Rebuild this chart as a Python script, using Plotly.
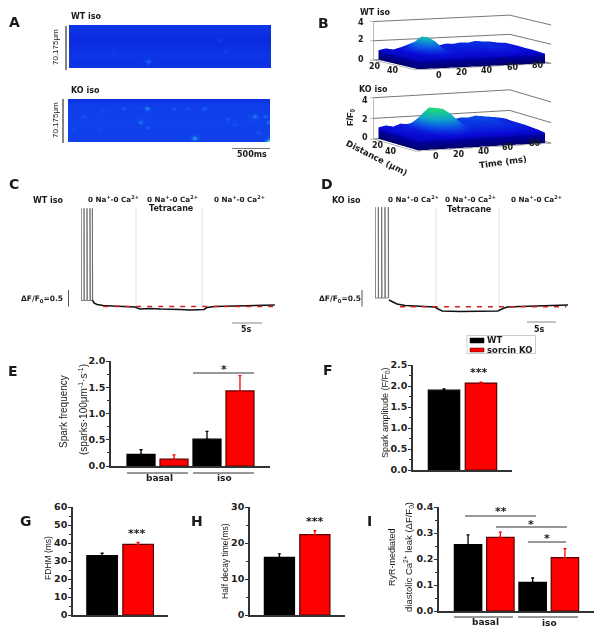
import plotly.graph_objects as go

W, H = 604, 637
def X(p): return p / W
def Y(p): return 1 - p / H

# ---------- data ----------
wt_label, ko_label = "WT", "sorcin KO"
# E
e_cat = ["basal WT", "basal KO", "iso WT", "iso KO"]
e_val = [0.22, 0.13, 0.51, 1.43]
e_err = [0.09, 0.08, 0.15, 0.29]
# F
two_cat = ["WT", "KO"]
f_val = [1.90, 2.07]
f_err = [0.03, 0.02]
# G
g_val = [33.0, 39.2]
g_err = [1.3, 1.1]
# H
h_val = [16.0, 22.3]
h_err = [1.0, 1.1]
# I
i_val = [0.255, 0.283, 0.110, 0.205]
i_err = [0.038, 0.020, 0.017, 0.035]

# C / D fluorescence traces
c_spike_t = [0, 0, .05, .5, .5, .55, 1.0, 1.0, 1.05, 1.5, 1.5, 1.55, 1.9, 1.9, 1.95]
c_spike_v = [.18, 2.94, .18, .18, 2.94, .18, .18, 2.94, .18, .18, 2.94, .18, .18, 2.94, .19]
c_t = [1.9, 2.2, 2.7, 3.7, 5.2, 6.5, 7.8, 9.0, 9.8, 10.7, 11.5, 13.2, 14.8, 16.5, 18.2, 19.8, 20.5, 21.0, 22.3, 24.0, 26.5, 28.2, 29.8, 32.3]
c_v = [.19, .10, .06, .03, .015, 0, -.015, -.015, -.075, -.06, -.06, -.075, -.075, -.09, -.105, -.105, -.09, -.03, 0, .006, .015, .015, .03, .045]
c_ref_t = [3.7, 32.0]
c_ref_v = [0, 0]
d_spike_t = [0, 0, .05, .57, .57, .62, 1.15, 1.15, 1.2, 1.72, 1.72, 1.77, 2.3, 2.3, 2.35]
d_spike_v = [.26, 2.98, .26, .26, 2.98, .26, .26, 2.98, .26, .26, 2.98, .26, .26, 2.98, .27]
d_t = [2.4, 3.1, 3.8, 5.2, 7.8, 10.3, 10.9, 11.6, 14.7, 18.1, 21.2, 22.1, 22.8, 25.0, 28.4, 33.3]
d_v = [.2, .14, .08, .035, .006, -.01, -.07, -.13, -.145, -.145, -.13, -.055, -.01, .006, .02, .05]
d_ref_t = [4.3, 33.0]
d_ref_v = [0, 0]

# A line-scan images: row brightness and sparks (ms, um, brightness)
a_cols, a_rows = 60, 16
a_ms, a_um = 2658, 70.175
wt_rows = [.16, .14, .12, .10, .09, .08, .08, .10, .12, .14, .15, .16, .15, .14, .12, .16]
ko_rows = [.15, .20, .22, .23, .22, .24, .24, .25, .26, .24, .25, .25, .25, .24, .23, .24]
wt_sparks = [(1020, 60, .52), (610, 48, .26), (2070, 43, .26), (1970, 25, .24), (900, 13, .2)]
ko_sparks = [(1037, 15, .75), (744, 15, .45), (1382, 15, .45), (1568, 15, .4), (1780, 15, .55),
             (213, 28, .42), (970, 36, .62), (1063, 44, .5), (1648, 62, .8), (2445, 27, .68),
             (2586, 29, .55), (2126, 31, .42), (2180, 41, .38), (2645, 39, .55), (2525, 57, .42),
             (425, 52, .33), (80, 49, .33), (478, 18, .33), (2650, 67, 1.0)]

# B surfaces: rows = distance, columns = time
b_time = [0, 5, 10, 15, 20, 25, 30, 35, 40, 45, 50, 55, 60, 65, 70, 75, 80, 85]
b_dist = [10, 18, 26, 34, 42, 50, 58]
wt_surf = [
 [1.0, 1.15, 1.0, 1.2, 1.45, 1.25, 1.15, 1.3, 1.2, 1.35, 1.3, 1.4, 1.35, 1.5, 1.4, 1.35, 1.2, 1.15],
 [1.0, 1.05, 1.1, 1.3, 1.9, 1.55, 1.3, 1.2, 1.3, 1.25, 1.35, 1.3, 1.4, 1.35, 1.4, 1.25, 1.3, 1.15],
 [1.05, 1.1, 1.2, 1.9, 2.6, 2.1, 1.45, 1.3, 1.2, 1.3, 1.25, 1.35, 1.3, 1.4, 1.3, 1.3, 1.2, 1.15],
 [1.0, 1.05, 1.15, 2.0, 2.7, 2.2, 1.4, 1.2, 1.25, 1.2, 1.3, 1.2, 1.35, 1.3, 1.3, 1.2, 1.2, 1.1],
 [1.05, 1.0, 1.1, 1.4, 1.7, 1.45, 1.25, 1.2, 1.15, 1.2, 1.15, 1.2, 1.25, 1.2, 1.25, 1.15, 1.15, 1.1],
 [1.0, 1.05, 1.0, 1.1, 1.15, 1.2, 1.1, 1.15, 1.1, 1.15, 1.1, 1.2, 1.15, 1.2, 1.15, 1.1, 1.1, 1.05],
 [1.0, 1.0, 1.05, 1.0, 1.05, 1.0, 1.05, 1.0, 1.05, 1.0, 1.05, 1.0, 1.05, 1.0, 1.05, 1.0, 1.0, 1.0]]
ko_surf = [
 [1.1, 1.25, 1.1, 1.35, 1.2, 1.5, 1.7, 1.5, 1.4, 1.55, 1.45, 1.6, 1.55, 1.7, 1.6, 1.5, 1.4, 1.25],
 [1.1, 1.15, 1.2, 1.3, 1.7, 2.4, 2.3, 1.8, 1.5, 1.45, 1.55, 1.5, 1.6, 1.55, 1.6, 1.45, 1.35, 1.2],
 [1.15, 1.2, 1.25, 1.4, 2.5, 3.2, 3.1, 2.6, 1.9, 1.5, 1.45, 1.5, 1.45, 1.55, 1.5, 1.4, 1.3, 1.2],
 [1.1, 1.15, 1.2, 1.3, 2.7, 3.3, 3.2, 2.7, 2.0, 1.45, 1.4, 1.45, 1.4, 1.5, 1.4, 1.35, 1.3, 1.2],
 [1.1, 1.1, 1.15, 1.2, 1.8, 2.2, 2.2, 1.9, 1.5, 1.3, 1.35, 1.3, 1.35, 1.35, 1.3, 1.3, 1.25, 1.15],
 [1.0, 1.05, 1.1, 1.1, 1.2, 1.35, 1.4, 1.3, 1.2, 1.2, 1.25, 1.2, 1.25, 1.25, 1.2, 1.2, 1.15, 1.1],
 [1.0, 1.0, 1.05, 1.05, 1.1, 1.1, 1.05, 1.05, 1.05, 1.1, 1.05, 1.1, 1.05, 1.1, 1.05, 1.05, 1.0, 1.0]]

# ---------- figure ----------
fig = go.Figure()
BLACK, RED = "#000000", "#ff0000"
SANS = "Liberation Sans"
WIDE = "DejaVu Sans"
LINE = "#333333"
annotations, shapes = [], []

def text(x, y, s, size=8, bold=True, family=WIDE, angle=0, color="#1a1a1a"):
    annotations.append(dict(x=X(x), y=Y(y), xref="paper", yref="paper", text=s, showarrow=False,
                            textangle=angle, xanchor="center", yanchor="middle",
                            font=dict(size=size, family=family, color=color, weight=700 if bold else 400)))

def seg(x0, y0, x1, y1, color="#333333", width=1.2):
    shapes.append(dict(type="line", xref="paper", yref="paper", x0=X(x0), y0=Y(y0), x1=X(x1), y1=Y(y1),
                       line=dict(color=color, width=width)))

axis_n = [1]
def new_axes(x0, x1, y0, y1, **kw):
    n = axis_n[0]
    axis_n[0] += 1
    s = "" if n == 1 else str(n)
    xa, ya = f"xaxis{s}", f"yaxis{s}"
    fig.layout[xa] = dict(domain=[X(x0), X(x1)], anchor=f"y{s}")
    fig.layout[ya] = dict(domain=[Y(y1), Y(y0)], anchor=f"x{s}")
    return f"x{s}", f"y{s}", xa, ya

def bar_panel(cats, vals, errs, box, xr, ymax, dtick, minor, fmt):
    x0, x1, y0, y1 = box
    xn, yn, xa, ya = new_axes(x0, x1, y0, y1)
    fig.layout[xa].update(type="category", categoryorder="array", categoryarray=cats, range=xr,
                          showline=True, linecolor=LINE, linewidth=1.5, ticks="", showticklabels=False,
                          showgrid=False, zeroline=False)
    fig.layout[ya].update(range=[0, ymax], dtick=dtick, tickformat=fmt, showline=True, linecolor=LINE, linewidth=1.5,
                          ticks="outside", ticklen=3, tickwidth=1.2, tickcolor=LINE, showgrid=False, zeroline=False,
                          ticklabelstandoff=-1,
                          tickfont=dict(size=9.5, family=WIDE, color="#222222", weight=700),
                          minor=dict(dtick=minor, ticks="outside", ticklen=2, tickwidth=1, tickcolor=LINE, showgrid=False))
    for start, color, line, name in ((0, BLACK, "#000000", wt_label), (1, RED, "#5a0000", ko_label)):
        fig.add_bar(x=cats[start::2], y=vals[start::2], name=name, xaxis=xn, yaxis=yn, showlegend=False,
                    marker=dict(color=color, line=dict(color=line, width=1.2)),
                    error_y=dict(type="data", symmetric=False, array=errs[start::2],
                                 arrayminus=[0] * len(errs[start::2]), color=color, thickness=1.3, width=1.5))

bar_panel(e_cat, e_val, e_err, (111, 270, 361, 466), [-0.91, 3.91], 2.0, 0.5, 0.25, ".1f")
bar_panel(two_cat, f_val, f_err, (413, 512, 365, 470), [-0.84, 1.84], 2.5, 0.5, 0.25, ".1f")
bar_panel(two_cat, g_val, g_err, (73, 168, 507, 615), [-0.81, 1.83], 60, 10, 5, "d")
bar_panel(two_cat, h_val, h_err, (250, 345, 507, 615), [-0.83, 1.85], 30, 10, 5, "d")
bar_panel(e_cat, i_val, i_err, (439, 594, 507, 611), [-0.9, 3.9], 0.4, 0.1, 0.05, ".1f")

# heatmaps
a_colors = [[0, "#0a20dc"], [.3, "#1048ee"], [.6, "#1c78f0"], [.85, "#38b4ee"], [1, "#8cd0a0"]]
def scan(rows, sparks, box):
    z = [[r] * a_cols for r in rows]
    for ms, um, v in sparks:
        c = min(a_cols - 1, int(ms / a_ms * a_cols))
        r = min(a_rows - 1, int(um / a_um * a_rows))
        for dr, dc, f in ((0, 0, 1), (0, 1, .45), (0, -1, .45), (1, 0, .45), (-1, 0, .45)):
            if 0 <= r + dr < a_rows and 0 <= c + dc < a_cols:
                z[r + dr][c + dc] = max(z[r + dr][c + dc], v * f)
    xs = [(i + .5) * a_ms / a_cols for i in range(a_cols)]
    ys = [(i + .5) * a_um / a_rows for i in range(a_rows)]
    xn, yn, xa, ya = new_axes(*box)
    fig.layout[xa].update(visible=False, range=[0, a_ms])
    fig.layout[ya].update(visible=False, range=[a_um, 0])
    fig.add_heatmap(x=xs, y=ys, z=z, xaxis=xn, yaxis=yn, colorscale=a_colors, zmin=0, zmax=1,
                    showscale=False, zsmooth="best")
scan(wt_rows, wt_sparks, (69, 271, 25, 68))
scan(ko_rows, ko_sparks, (68, 270, 99, 142))

# traces C, D
def trace_panel(box, xr, yr, st, sv, t, v, rt, rv, seps):
    xn, yn, xa, ya = new_axes(*box)
    fig.layout[xa].update(visible=False, range=xr)
    fig.layout[ya].update(visible=False, range=yr)
    common = dict(xaxis=xn, yaxis=yn, mode="lines", showlegend=False)
    for s in seps:
        fig.add_scatter(x=[s, s], y=[0, 2.95], line=dict(color="#dcdcdc", width=.8), **common)
    fig.add_scatter(x=st, y=sv, line=dict(color="#6e6e6e", width=.9), **common)
    fig.add_scatter(x=t, y=v, line=dict(color="#111111", width=1.6), **common)
    fig.add_scatter(x=rt, y=rv, line=dict(color="#d02020", width=1.4, dash="5px,6px"), **common)

trace_panel((81, 275, 200, 320), [0, 32.33], [-.404, 3.19], c_spike_t, c_spike_v, c_t, c_v, c_ref_t, c_ref_v, [9.17, 20.17])
trace_panel((375, 568, 200, 320), [0, 33.3], [-.398, 3.195], d_spike_t, d_spike_v, d_t, d_v, d_ref_t, d_ref_v, [10.5, 21.4])

# B scenes
def walled(rows):
    n = len(rows[0])
    body = [[0] + r + [0] for r in rows]
    return [[0] * (n + 2)] + body + [[0] * (n + 2)]
def edge(vals):
    return [vals[0]] + vals + [vals[-1]]
b_colors = [[0, "#00006a"], [.18, "#00009c"], [.28, "#0a0ad8"], [.42, "#0a50e8"], [.6, "#10a8c8"], [.8, "#20d878"], [1, "#40e040"]]
def surface(name, surf, dom, eye, aspect):
    fig.add_surface(x=edge(b_time), y=edge(b_dist), z=walled(surf), scene=name, colorscale=b_colors,
                    cmin=0, cmax=4, showscale=False,
                    lighting=dict(ambient=1, diffuse=0, specular=0, roughness=1, fresnel=0),
                    contours=dict(x=dict(highlight=False), y=dict(highlight=False), z=dict(highlight=False)))
    ax = dict(showbackground=False, showspikes=False, title="", color="#333333", linecolor="#777777", linewidth=1,
              tickfont=dict(size=9, family=WIDE, color="#222222", weight=700), ticks="outside", ticklen=4,
              tickcolor="#777777", zeroline=False, showline=True, showticklabels=False)
    fig.layout[name] = dict(
        domain=dict(x=[X(dom[0]), X(dom[1])], y=[Y(dom[3]), Y(dom[2])]),
        xaxis=dict(ax, range=[-3, 88], tickvals=[0, 20, 40, 60, 80], showgrid=False),
        yaxis=dict(ax, range=[60, 10], tickvals=[20, 40], showgrid=False),
        zaxis=dict(ax, range=[0, 4], tickvals=[0, 2, 4], showgrid=True, gridcolor="#777777"),
        aspectmode="manual", aspectratio=aspect,
        camera=dict(projection=dict(type="orthographic"), eye=eye, center=dict(x=0, y=0, z=0)))
surface("scene", wt_surf, (350, 575, 0, 85), dict(x=-1.6, y=-3.6, z=.42), dict(x=3.5, y=2.4, z=.91))
surface("scene2", ko_surf, (350, 575, 78, 163), dict(x=-1.6, y=-3.6, z=.52), dict(x=3.5, y=2.4, z=.98))

# ---------- labels ----------
for s, x, y in (("A", 14, 22), ("B", 323, 23), ("C", 14, 184), ("D", 327, 184), ("E", 13, 371),
                ("F", 328, 370), ("G", 26, 521), ("H", 197, 521), ("I", 369, 521)):
    text(x, y, s, size=14)

# A
text(86, 17, "WT iso"); text(85, 90, "KO iso")
text(55, 47, "70.175μm", size=8, bold=False, family=SANS, angle=-90)
text(55, 120, "70.175μm", size=8, bold=False, family=SANS, angle=-90)
seg(66, 26, 66, 70); seg(63, 99, 63, 143)
seg(232, 148.5, 270, 148.5, "#777777"); text(252, 154.5, "500ms")
# B
text(375, 12, "WT iso"); text(373, 89, "KO iso")
for v, x, y in (("4", 361, 22), ("2", 361, 40), ("0", 361, 60), ("20", 375, 66), ("40", 393, 70),
                ("0", 439, 75), ("20", 462, 73), ("40", 487, 70), ("60", 513, 67), ("80", 538, 65),
                ("4", 365, 100), ("2", 365, 119), ("0", 365, 138), ("20", 378, 146), ("40", 391, 151),
                ("0", 436, 157), ("20", 459, 154), ("40", 484, 151), ("60", 508, 147), ("80", 535, 143)):
    text(x, y, v, size=8)
text(351, 117, "F/F<sub>0</sub>", size=9, family=SANS, angle=-90)
text(377, 158, "Distance (μm)", size=8.5, angle=27)
text(503, 162, "Time (ms)", size=8.5, angle=-8)
# C
NA = "0 Na<sup>+</sup>-0 Ca<sup>2+</sup>"
NS = 7.2
text(48, 200, "WT iso")
text(113, 199, NA, size=NS); text(172, 199, NA, size=NS); text(171, 208.5, "Tetracane"); text(239, 199, NA, size=NS)
text(42, 299, "ΔF/F<sub>0</sub>=0.5", size=7.5)
seg(68.5, 290, 68.5, 306.5, "#555555", 1)
seg(232, 323, 262, 323, "#888888", 1); text(246, 329, "5s")
# D
text(346, 201, "KO iso")
text(414, 199, NA, size=NS); text(470, 199, NA, size=NS); text(469, 209, "Tetracane"); text(536, 199, NA, size=NS)
text(340, 299, "ΔF/F<sub>0</sub>=0.5", size=7.5)
seg(362, 290, 362, 306.5, "#555555", 1)
seg(527, 322, 556, 322, "#888888", 1); text(539, 329, "5s")
# legend
shapes.append(dict(type="rect", xref="paper", yref="paper", x0=X(467), x1=X(535.5), y0=Y(335.5), y1=Y(353.5),
                   line=dict(color="#cccccc", width=1), fillcolor="#ffffff"))
shapes.append(dict(type="rect", xref="paper", yref="paper", x0=X(470), x1=X(484), y0=Y(338), y1=Y(343),
                   line=dict(color="#000000", width=.5), fillcolor="#000000"))
shapes.append(dict(type="rect", xref="paper", yref="paper", x0=X(470), x1=X(484), y0=Y(348), y1=Y(352),
                   line=dict(color="#400000", width=.5), fillcolor="#ff0000"))
text(494, 340, "WT", size=8.5); text(509, 349.5, "sorcin KO", size=8.5)
# E
text(63, 412, "Spark frequency", size=10, bold=False, family=SANS, angle=-90)
text(83, 410, "(sparks·100μm<sup>-1</sup>·s<sup>-1</sup>)", size=10, bold=False, family=SANS, angle=-90)
seg(127, 473, 188, 473); seg(193, 473, 254, 473)
text(159, 478, "basal", size=9); text(224, 478, "iso", size=9)
seg(193, 373, 254, 373); text(224, 369, "*", size=11)
# F
text(385, 413, "Spark amplitude (F/F<sub>0</sub>)", size=9, bold=False, family=SANS, angle=-90)
text(479, 372, "***", size=11)
# G
text(48, 558, "FDHM (ms)", size=8.5, bold=False, family=SANS, angle=-90)
text(137, 533, "***", size=11)
# H
text(225, 561, "Half decay time(ms)", size=8.5, bold=False, family=SANS, angle=-90)
text(315, 521, "***", size=11)
# I
text(392, 557, "RyR-mediated", size=9, bold=False, family=SANS, angle=-90)
text(408, 557, "diastolic Ca<sup>2+</sup> leak (ΔF/F<sub>0</sub>)", size=9.5, bold=False, family=SANS, angle=-90)
seg(454, 617, 513, 617); seg(518, 617, 578, 617)
text(485, 622, "basal", size=9); text(549, 623, "iso", size=9)
seg(465, 516, 536, 516); text(501, 511, "**", size=11)
seg(496, 527, 567, 527); text(531, 524, "*", size=11)
seg(528, 542, 566, 542); text(547, 538, "*", size=11)

fig.update_layout(width=W, height=H, margin=dict(l=0, r=0, t=0, b=0, autoexpand=False), autosize=False,
                  paper_bgcolor="white", plot_bgcolor="white", barmode="overlay", bargap=0.15,
                  annotations=annotations, shapes=shapes, showlegend=False)
fig.write_html("out.html", config=dict(displayModeBar=False),
               post_script="document.body.style.margin='0';document.body.style.overflow='hidden';")
